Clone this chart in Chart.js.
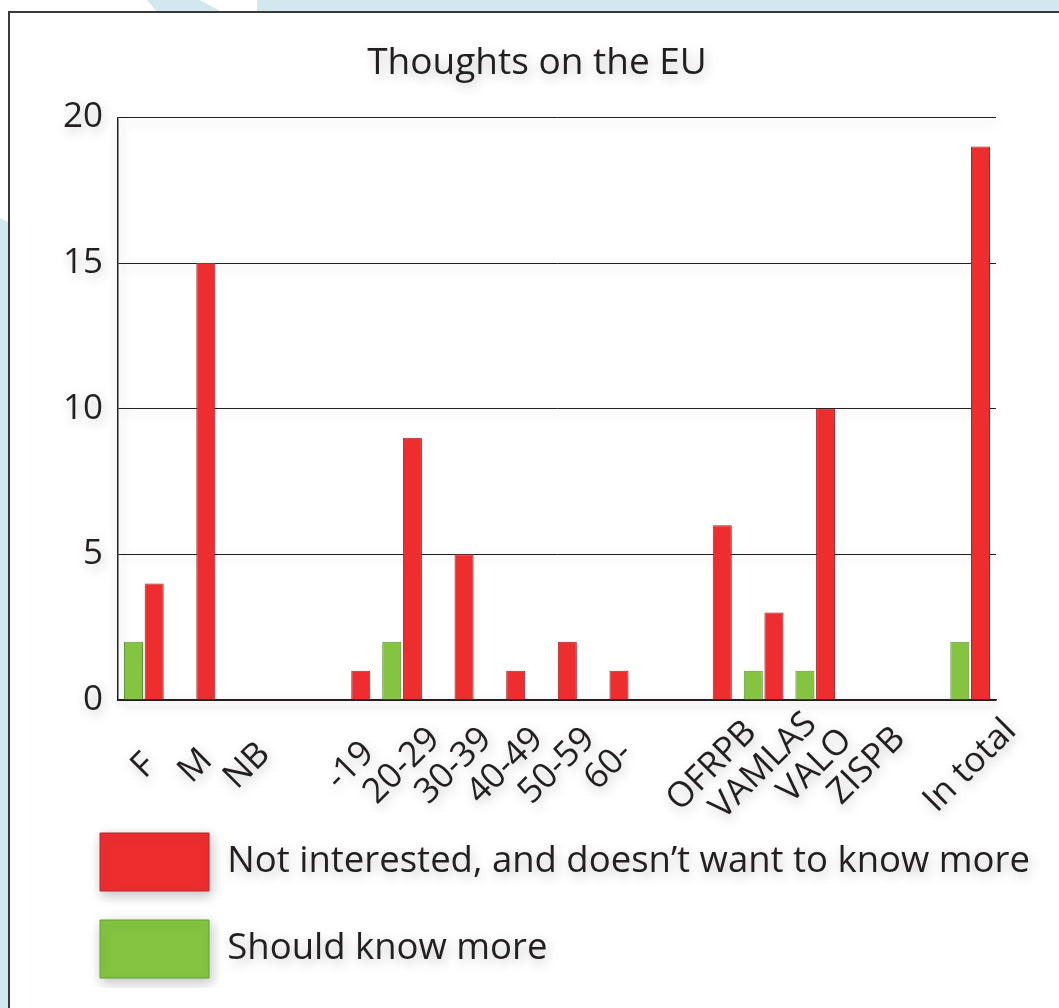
<!DOCTYPE html>
<html>
<head>
<meta charset="utf-8">
<script src="https://cdn.jsdelivr.net/npm/chart.js@4"></script>
<style>
  html, body { margin: 0; padding: 0; width: 1059px; height: 1008px; overflow: hidden; background: #d3e8ee; }
  .bg-white { position: absolute; background: #ffffff; }
  #panel { position: absolute; left: 8px; top: 11px; width: 1060px; height: 1010px;
           background: #ffffff; border: 2px solid #3a3a3a; box-sizing: border-box; }
  #wrap { position: absolute; left: 0; top: 0; width: 1059px; height: 1008px; }
</style>
</head>
<body>
<!-- pale backdrop shapes behind the card -->
<div class="bg-white" style="left:0;top:0;width:160px;height:230px;clip-path:polygon(0 0,147px 0,157px 12px,8px 12px,8px 222px,0 218px);"></div>
<div class="bg-white" style="left:195px;top:0;width:70px;height:12px;clip-path:polygon(5px 0,62px 0,62px 12px,27px 12px);"></div>
<div id="panel"></div>
<div id="wrap"><canvas id="chart"></canvas></div>
<script>
const title = 'Thoughts on the EU';
const categories = ['F', 'M', 'NB', '', '-19', '20-29', '30-39', '40-49', '50-59', '60-', '',
                    'OFRPB', 'VAMLAS', 'VALO', 'ZISPB', '', 'In total'];
const shouldKnowMore = [2, 0, 0, null, 0, 2, 0, 0, 0, 0, null, 0, 1, 1, 0, null, 2];
const notInterested  = [4, 15, 0, null, 1, 9, 5, 1, 2, 1, null, 6, 3, 10, 0, null, 19];
const seriesNames = ['Should know more', 'Not interested, and doesn\u2019t want to know more'];
const yTicks = [0, 5, 10, 15, 20];

const FONT = '"Open Sans", "Noto Sans", sans-serif';
const INK = '#231f20';

// Soft drop shadow under everything, plus the rotated category labels
// centred on each category.
const shadowAndLabels = {
  id: 'shadowAndLabels',
  afterLayout(chart) {
    const area = chart.chartArea;
    // legend starts a little right of the axis labels and may run past the plot edge
    const lg = chart.legend;
    lg.left = area.left - 47;
    lg.right = chart.width - 4;
    lg.width = lg.right - lg.left;
    // title centred over the card rather than the full canvas
    const tt = chart.titleBlock;
    tt.left = area.left - 40;
    tt.right = area.right;
    tt.width = tt.right - tt.left;
  },
  beforeDraw(chart) {
    const ctx = chart.ctx;
    ctx.save();
    ctx.shadowColor = 'rgba(40, 40, 50, 0.28)';
    ctx.shadowBlur = 12;
    ctx.shadowOffsetX = 2;
    ctx.shadowOffsetY = 4;
  },
  afterDraw(chart) {
    const ctx = chart.ctx;
    const xs = chart.scales.x;
    ctx.save();
    ctx.font = '35px ' + FONT;
    ctx.fillStyle = INK;
    ctx.textAlign = 'center';
    ctx.textBaseline = 'middle';
    const cy = xs.top + 66;
    categories.forEach((lab, i) => {
      if (!lab) return;
      const cx = xs.getPixelForValue(i);
      ctx.save();
      ctx.translate(cx, cy);
      ctx.rotate(-Math.PI / 4);
      ctx.fillText(lab, 0, 0);
      ctx.restore();
    });
    ctx.restore();
    ctx.restore();
  }
};

new Chart(document.getElementById('chart'), {
  type: 'bar',
  data: {
    labels: categories,
    datasets: [
      {
        label: seriesNames[0],
        data: shouldKnowMore,
        backgroundColor: '#84c441',
        borderColor: '#64a033',
        borderWidth: 1,
        borderSkipped: 'bottom'
      },
      {
        label: seriesNames[1],
        data: notInterested,
        backgroundColor: '#ee2d2f',
        borderColor: '#b8262a',
        borderWidth: 1,
        borderSkipped: 'bottom'
      }
    ]
  },
  options: {
    responsive: true,
    maintainAspectRatio: false,
    animation: false,
    events: [],
    layout: { padding: { left: 48, right: 63, top: 0, bottom: 20 } },
    datasets: { bar: { categoryPercentage: 0.8, barPercentage: 0.92 } },
    plugins: {
      tooltip: { enabled: false },
      title: {
        display: true,
        text: title,
        color: INK,
        font: { family: FONT, size: 37, weight: 'normal' },
        padding: { top: 41, bottom: 32 }
      },
      legend: {
        display: true,
        position: 'bottom',
        align: 'start',
        reverse: true,
        labels: {
          boxWidth: 109,
          boxHeight: 58,
          padding: 29,
          color: INK,
          font: { family: FONT, size: 36.5 }
        }
      }
    },
    scales: {
      x: {
        grid: { display: false },
        border: { display: true, color: INK, width: 1.5 },
        ticks: { display: false },
        afterFit(scale) { scale.height = 104; }
      },
      y: {
        min: 0,
        max: 20,
        afterBuildTicks(scale) { scale.ticks = yTicks.map(v => ({ value: v })); },
        grid: { color: INK, lineWidth: 1, drawTicks: false },
        border: { display: true, color: INK, width: 1.5 },
        ticks: {
          color: INK,
          padding: 15,
          font: { family: FONT, size: 35 }
        }
      }
    }
  },
  plugins: [shadowAndLabels]
});
</script>
</body>
</html>
